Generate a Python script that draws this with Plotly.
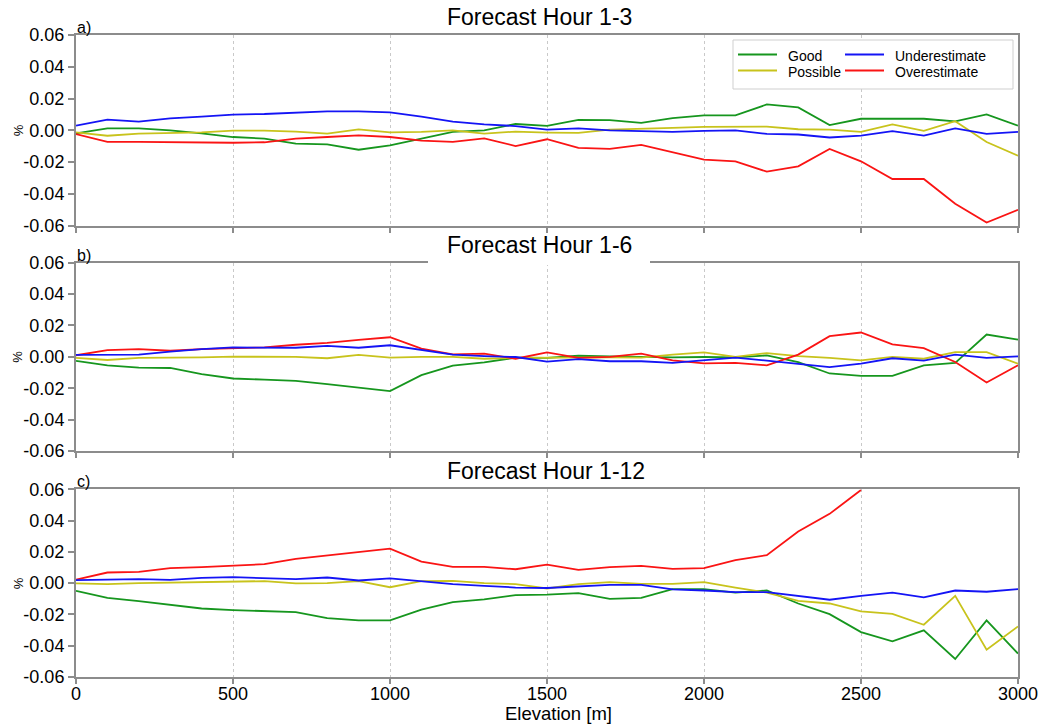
import plotly.graph_objects as go

# Elevation bins [m]
elevation = [0, 100, 200, 300, 400, 500, 600, 700, 800, 900, 1000,
             1100, 1200, 1300, 1400, 1500, 1600, 1700, 1800, 1900, 2000,
             2100, 2200, 2300, 2400, 2500, 2600, 2700, 2800, 2900, 3000]

# a) Forecast hour 1-3
good_a = [-0.0019, 0.0013, 0.0013, 0.0000, -0.0019, -0.0042, -0.0052, -0.0084, -0.0088, -0.0122, -0.0094,
          -0.0052, -0.0010, 0.0000, 0.0040, 0.0028, 0.0066, 0.0064, 0.0047, 0.0077, 0.0094,
          0.0094, 0.0163, 0.0144, 0.0033, 0.0073, 0.0073, 0.0073, 0.0056, 0.0100, 0.0030]
possible_a = [-0.0013, -0.0034, -0.0021, -0.0017, -0.0013, -0.0002, -0.0002, -0.0008, -0.0021, 0.0006, -0.0013,
              -0.0010, 0.0000, -0.0020, -0.0008, -0.0014, -0.0016, 0.0005, 0.0009, 0.0016, 0.0022,
              0.0022, 0.0024, 0.0007, 0.0005, -0.0009, 0.0037, -0.0003, 0.0058, -0.0073, -0.0160]
under_a = [0.0030, 0.0067, 0.0055, 0.0075, 0.0086, 0.0099, 0.0103, 0.0113, 0.0120, 0.0120, 0.0113,
           0.0086, 0.0055, 0.0038, 0.0027, 0.0005, 0.0012, 0.0000, -0.0003, -0.0009, -0.0003,
           0.0000, -0.0022, -0.0026, -0.0045, -0.0033, -0.0005, -0.0033, 0.0012, -0.0022, -0.0010]
over_a = [-0.0023, -0.0073, -0.0073, -0.0075, -0.0073, -0.0078, -0.0075, -0.0052, -0.0042, -0.0031, -0.0042,
          -0.0065, -0.0073, -0.0050, -0.0099, -0.0056, -0.0110, -0.0117, -0.0092, -0.0136, -0.0184,
          -0.0195, -0.0260, -0.0226, -0.0117, -0.0195, -0.0306, -0.0306, -0.0462, -0.0580, -0.0500]

# b) Forecast hour 1-6
good_b = [-0.0026, -0.0054, -0.0069, -0.0071, -0.0110, -0.0138, -0.0145, -0.0153, -0.0174, -0.0195, -0.0218,
          -0.0117, -0.0056, -0.0035, -0.0005, -0.0007, 0.0007, 0.0003, 0.0000, -0.0003, -0.0001,
          -0.0003, 0.0009, -0.0033, -0.0106, -0.0121, -0.0121, -0.0054, -0.0039, 0.0142, 0.0110]
possible_b = [-0.0007, -0.0020, -0.0007, -0.0007, -0.0003, 0.0001, 0.0000, 0.0000, -0.0009, 0.0012, -0.0005,
              0.0000, 0.0000, -0.0012, -0.0007, -0.0005, -0.0005, -0.0003, -0.0005, 0.0014, 0.0028,
              0.0000, 0.0024, 0.0005, -0.0007, -0.0022, 0.0000, -0.0012, 0.0030, 0.0030, -0.0043]
under_b = [0.0012, 0.0012, 0.0014, 0.0033, 0.0049, 0.0060, 0.0060, 0.0058, 0.0070, 0.0058, 0.0074,
           0.0045, 0.0014, 0.0005, -0.0001, -0.0030, -0.0014, -0.0028, -0.0028, -0.0039, -0.0020,
           -0.0005, -0.0024, -0.0045, -0.0066, -0.0043, -0.0009, -0.0024, 0.0014, -0.0007, 0.0003]
over_b = [0.0010, 0.0043, 0.0049, 0.0039, 0.0049, 0.0056, 0.0060, 0.0077, 0.0089, 0.0108, 0.0125,
          0.0052, 0.0016, 0.0020, -0.0012, 0.0028, -0.0007, 0.0000, 0.0020, -0.0022, -0.0041,
          -0.0039, -0.0054, 0.0014, 0.0132, 0.0155, 0.0079, 0.0056, -0.0033, -0.0163, -0.0054]

# c) Forecast hour 1-12 (overestimate leaves the axis range above 2500 m)
good_c = [-0.0049, -0.0094, -0.0115, -0.0138, -0.0162, -0.0172, -0.0179, -0.0185, -0.0223, -0.0238, -0.0238,
          -0.0170, -0.0121, -0.0104, -0.0077, -0.0073, -0.0064, -0.0100, -0.0094, -0.0038, -0.0038,
          -0.0060, -0.0047, -0.0130, -0.0198, -0.0313, -0.0372, -0.0302, -0.0485, -0.0238, -0.0450]
possible_c = [-0.0002, -0.0006, 0.0000, 0.0004, 0.0009, 0.0013, 0.0013, -0.0002, 0.0000, 0.0013, -0.0026,
              0.0013, 0.0015, 0.0000, -0.0006, -0.0034, -0.0006, 0.0006, -0.0004, -0.0004, 0.0006,
              -0.0028, -0.0060, -0.0113, -0.0130, -0.0181, -0.0196, -0.0266, -0.0081, -0.0426, -0.0277]
under_c = [0.0019, 0.0023, 0.0026, 0.0021, 0.0034, 0.0038, 0.0032, 0.0026, 0.0036, 0.0017, 0.0030,
           0.0011, -0.0006, -0.0017, -0.0028, -0.0031, -0.0021, -0.0011, -0.0011, -0.0040, -0.0047,
           -0.0057, -0.0057, -0.0081, -0.0106, -0.0081, -0.0060, -0.0091, -0.0047, -0.0055, -0.0038]
over_c = [0.0023, 0.0068, 0.0072, 0.0096, 0.0102, 0.0111, 0.0121, 0.0155, 0.0177, 0.0198, 0.0221,
          0.0138, 0.0104, 0.0104, 0.0089, 0.0118, 0.0085, 0.0102, 0.0111, 0.0091, 0.0096,
          0.0147, 0.0179, 0.0330, 0.0443, 0.0595, None, None, None, None, None]

panel_titles = ["Forecast Hour 1-3", "Forecast Hour 1-6", "Forecast Hour 1-12"]
panel_tags = ["a)", "b)", "c)"]
series_names = ["Good", "Possible", "Underestimate", "Overestimate"]

x_tickvals = [0, 500, 1000, 1500, 2000, 2500, 3000]
x_ticktext = ["0", "500", "1000", "1500", "2000", "2500", "3000"]
y_tickvals = [-0.06, -0.04, -0.02, 0.0, 0.02, 0.04, 0.06]
y_ticktext = ["-0.06", "-0.04", "-0.02", "0.00", "0.02", "0.04", "0.06"]

colors = {"Good": "#16961e", "Possible": "#c8c31c",
          "Underestimate": "#1414f5", "Overestimate": "#fa1414"}

panels = [
    {"Good": good_a, "Possible": possible_a, "Underestimate": under_a, "Overestimate": over_a},
    {"Good": good_b, "Possible": possible_b, "Underestimate": under_b, "Overestimate": over_b},
    {"Good": good_c, "Possible": possible_c, "Underestimate": under_c, "Overestimate": over_c},
]

FONT = "Liberation Sans, Arial, Helvetica, sans-serif"
W, H = 1053, 724
ML, MR, MT, MB = 76, 35, 35, 47
PW, PH = W - ML - MR, H - MT - MB

def px_x(px):
    return (px - ML) / PW

def px_y(py):
    return (H - MB - py) / PH

# Panel frames in pixels (top, bottom)
frames = [(35, 225.7), (262.7, 451), (489.3, 677)]
domains = [[px_y(b), px_y(t)] for t, b in frames]

fig = go.Figure()
frame_color = "#8c8c8c"

for i, data in enumerate(panels):
    xa = "x" if i == 0 else f"x{i + 1}"
    ya = "y" if i == 0 else f"y{i + 1}"
    for name in ["Good", "Possible", "Overestimate", "Underestimate"]:
        fig.add_trace(go.Scatter(
            x=elevation, y=data[name], mode="lines", name=name,
            line=dict(color=colors[name], width=1.8),
            xaxis=xa, yaxis=ya, showlegend=False, connectgaps=False))

    axis_x = dict(domain=[0, 1], range=[0, 3000], anchor=ya,
                  tickvals=x_tickvals, ticktext=x_ticktext,
                  showticklabels=(i == 2), ticks="outside", ticklen=5,
                  tickwidth=1.5, tickcolor=frame_color, ticklabelstandoff=-6,
                  showline=True, linecolor=frame_color, linewidth=2, mirror=True,
                  showgrid=True, gridcolor="#c9c9c9", gridwidth=1, griddash="dot",
                  zeroline=False, tickfont=dict(size=18, color="black", family=FONT))
    axis_y = dict(domain=domains[i], range=[-0.06, 0.06], anchor=xa,
                  tickvals=y_tickvals, ticktext=y_ticktext,
                  ticks="outside", ticklen=6, tickwidth=1.5, tickcolor=frame_color,
                  showline=True, linecolor=frame_color, linewidth=2, mirror=True,
                  showgrid=False, zeroline=False,
                  tickfont=dict(size=18, color="black", family=FONT))
    fig.layout["xaxis" if i == 0 else f"xaxis{i + 1}"] = axis_x
    fig.layout["yaxis" if i == 0 else f"yaxis{i + 1}"] = axis_y

    top_px, bot_px = frames[i]
    # panel title
    fig.add_annotation(text=panel_titles[i], xref="paper", yref="paper",
                       x=px_x(445), y=px_y(top_px), xanchor="left", yanchor="bottom",
                       yshift=3, showarrow=False,
                       font=dict(size=23, color="black", family=FONT))
    # panel tag
    fig.add_annotation(text=panel_tags[i], xref="paper", yref="paper",
                       x=px_x(75), y=px_y(top_px), xanchor="left", yanchor="bottom",
                       yshift=-3, showarrow=False,
                       font=dict(size=16, color="black", family=FONT))
    # y-axis title
    fig.add_annotation(text="%", xref="paper", yref="paper",
                       x=px_x(18), y=px_y((top_px + bot_px) / 2),
                       xanchor="center", yanchor="middle", textangle=-90,
                       showarrow=False, font=dict(size=13, color="black", family=FONT))

# white patch behind the second title, interrupting the frame
fig.add_shape(type="rect", xref="paper", yref="paper", layer="above",
              x0=px_x(428), x1=px_x(650), y0=px_y(265), y1=px_y(256),
              line=dict(width=0), fillcolor="white")

# x-axis title
fig.add_annotation(text="Elevation [m]", xref="paper", yref="paper",
                   x=px_x(558), y=px_y(724), xanchor="center", yanchor="bottom",
                   yshift=-2, showarrow=False,
                   font=dict(size=18.5, color="black", family=FONT))

# legend box (two columns)
fig.add_shape(type="rect", xref="paper", yref="paper", layer="above",
              x0=px_x(733), x1=px_x(1013), y0=px_y(89), y1=px_y(40),
              line=dict(color="#cfcfcf", width=1), fillcolor="white")
legend_slots = {"Good": (738, 56), "Possible": (738, 72),
                "Underestimate": (845, 56), "Overestimate": (845, 72)}
for name in series_names:
    lx, ly = legend_slots[name]
    fig.add_shape(type="line", xref="paper", yref="paper", layer="above",
                  x0=px_x(lx), x1=px_x(lx + 39), y0=px_y(ly - 1.5), y1=px_y(ly - 1.5),
                  line=dict(color=colors[name], width=2))
    fig.add_annotation(text=name, xref="paper", yref="paper",
                       x=px_x(lx + 48), y=px_y(ly), xanchor="left", yanchor="middle",
                       showarrow=False, font=dict(size=14, color="black", family=FONT))

fig.update_layout(width=W, height=H, margin=dict(l=ML, r=MR, t=MT, b=MB),
                  paper_bgcolor="white", plot_bgcolor="white", showlegend=False,
                  font=dict(family=FONT, color="black"))

fig.write_html("out.html")
